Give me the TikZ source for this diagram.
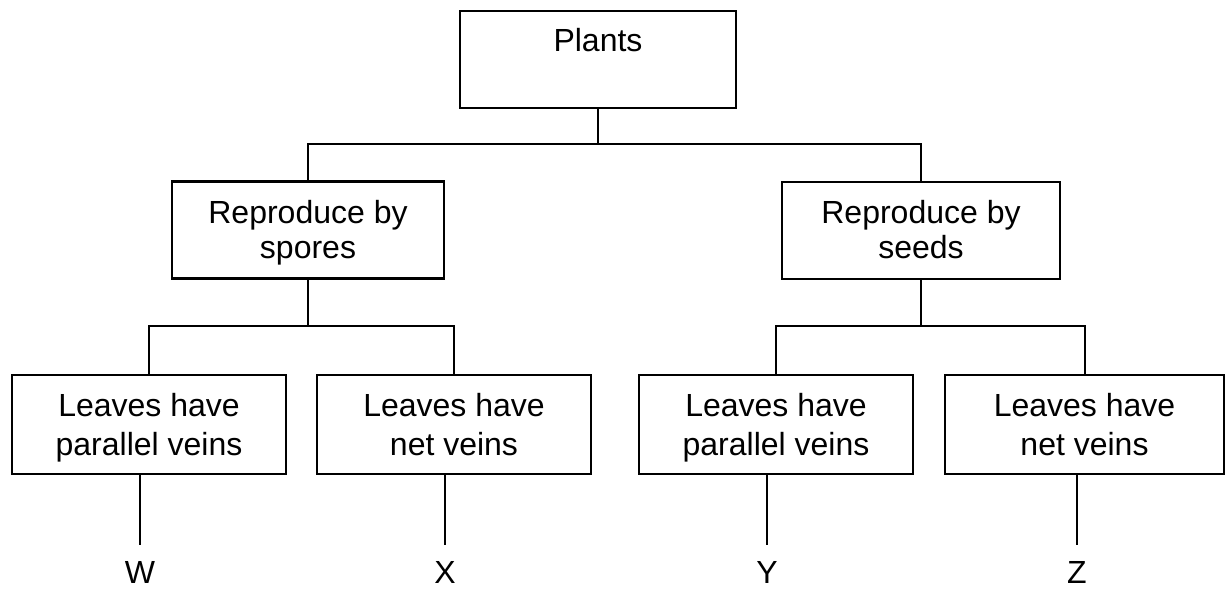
\documentclass[tikz,border=0pt]{standalone}
\usepackage{fontspec}
\setmainfont{Liberation Sans}
\newcommand{\linestrut}{\rule[-8pt]{0pt}{38pt}}
\newcommand{\midstrut}{\rule[-7pt]{0pt}{35pt}}
\begin{document}
\begin{tikzpicture}[x=1pt,y=1pt,
  box/.style={draw, line width=2.2pt, inner sep=0pt, align=center, minimum height=97pt},
  midbox/.style={box, font=\fontsize{32}{35}\selectfont},
  leafbox/.style={box, font=\fontsize{32}{39}\selectfont, minimum height=99pt},
  lab/.style={inner sep=0pt, anchor=base, font=\fontsize{32}{38}\selectfont},
  conn/.style={line width=2pt}]
\useasboundingbox (0,0) rectangle (1226,-589);
\node[box, anchor=north, minimum width=276pt, text height=40pt, text depth=57pt,
      font=\fontsize{32}{38}\selectfont] (plants) at (598,-10) {Plants};
\node[midbox, minimum width=272pt] (m1) at (308,-230) {\midstrut Reproduce by\\\midstrut spores};
\node[midbox, minimum width=278pt] (m2) at (921,-230.5) {\midstrut Reproduce by\\\midstrut seeds};
\node[leafbox, minimum width=274pt] (b1) at (149,-424.5) {\linestrut Leaves have\\\linestrut parallel veins};
\node[leafbox, minimum width=274pt] (b2) at (454,-424.5) {\linestrut Leaves have\\\linestrut net veins};
\node[leafbox, minimum width=274pt] (b3) at (776,-424.5) {\linestrut Leaves have\\\linestrut parallel veins};
\node[leafbox, minimum width=279pt] (b4) at (1084.5,-424.5) {\linestrut Leaves have\\\linestrut net veins};
\node[lab] (W) at (140,-583) {W};
\node[lab] (X) at (445,-583) {X};
\node[lab] (Y) at (767,-583) {Y};
\node[lab] (Z) at (1077,-583) {Z};
\coordinate (j0) at (598,-143.5);
\coordinate (j1) at (308,-325.5);
\coordinate (j2) at (921,-325.5);
\draw[conn] (plants.south) -- (j0);
\draw[conn] (m1.north) |- (j0) -| (m2.north);
\draw[conn] (m1.south) -- (j1);
\draw[conn] (b1.north) |- (j1) -| (b2.north);
\draw[conn] (m2.south) -- (j2);
\draw[conn] (b3.north) |- (j2) -| (b4.north);
\draw[conn, shorten >=16pt] (b1.south -| W.north) -- (W.north);
\draw[conn, shorten >=16pt] (b2.south -| X.north) -- (X.north);
\draw[conn, shorten >=16pt] (b3.south -| Y.north) -- (Y.north);
\draw[conn, shorten >=16pt] (b4.south -| Z.north) -- (Z.north);
\end{tikzpicture}
\end{document}
